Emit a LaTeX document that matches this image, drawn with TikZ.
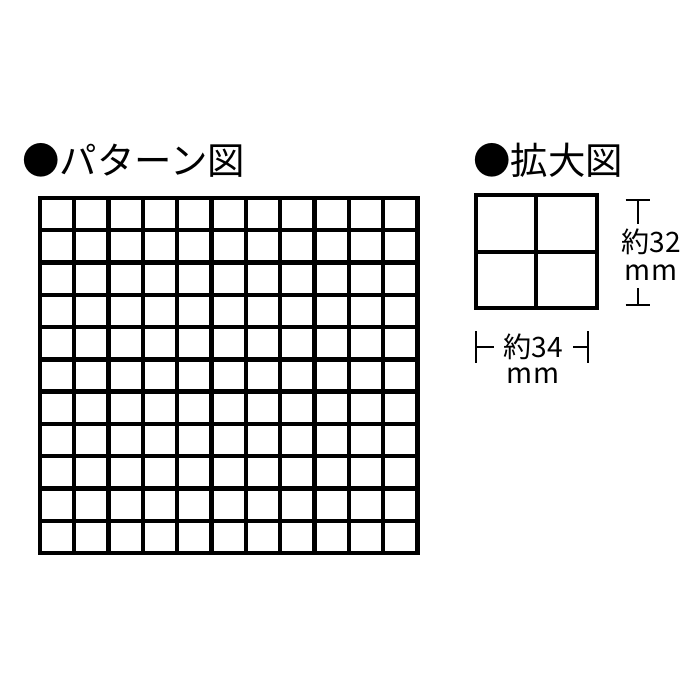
\documentclass[tikz,border=0pt]{standalone}
\usepackage{fontspec}
\setmainfont{Noto Sans CJK JP}
\usetikzlibrary{positioning}
\tikzset{
  heading/.style={
    font=\fontsize{21.3}{24}\selectfont, inner sep=0pt, anchor=west
  },
  dimlabel/.style={
    font=\fontsize{16}{19}\selectfont, inner sep=0pt, align=center
  },
  tileline/.style={
    line width=2.5pt, line cap=rect
  },
  dimline/.style={
    line width=0.8pt
  }
}

\begin{document}
\begin{tikzpicture}[x=0.02cm, y=-0.02cm]
  \useasboundingbox (0,0) rectangle (700,700);

  % Headings
  \node[heading] (pattern) at (22,160) {●パターン図};
  \node[heading] (detail) at (473,160) {●拡大図};

  % Pattern grid (11 x 11)
  \foreach \i in {0,...,11} {
    \draw[tileline] ({40+\i*34.3},198) -- ({40+\i*34.3},553);
    \draw[tileline] (40,{198+\i*32.27}) -- (417,{198+\i*32.27});
  }

  % Enlarged tiles
  \draw[tileline] (476,195) rectangle (597,308);
  \draw[tileline] (536,195) -- (536,308);
  \draw[tileline] (476,252) -- (597,252);

  % Height dimension
  \node[dimlabel] (hlabel) at (651,255) {約32\\[-3pt]mm};
  \coordinate (htop) at (638,200);
  \coordinate (hbot) at (638,305);
  \draw[dimline] ([xshift=-7]htop) -- ([xshift=7]htop);
  \draw[dimline] (htop) -- ++(0,24);
  \draw[dimline] ([xshift=-7]hbot) -- ([xshift=7]hbot);
  \draw[dimline] (hbot) -- ++(0,-17);

  % Width dimension
  \node[dimlabel] (wlabel) at (533,347) {約34};
  \node[dimlabel] (wunit) at (533,376) {mm};
  \coordinate (wleft) at (476,347);
  \coordinate (wright) at (588,347);
  \draw[dimline] ([yshift=-9]wleft) -- ([yshift=9]wleft);
  \draw[dimline] (wleft) -- ++(18,0);
  \draw[dimline] ([yshift=-9]wright) -- ([yshift=9]wright);
  \draw[dimline] (wright) -- ++(-15,0);
\end{tikzpicture}
\end{document}
